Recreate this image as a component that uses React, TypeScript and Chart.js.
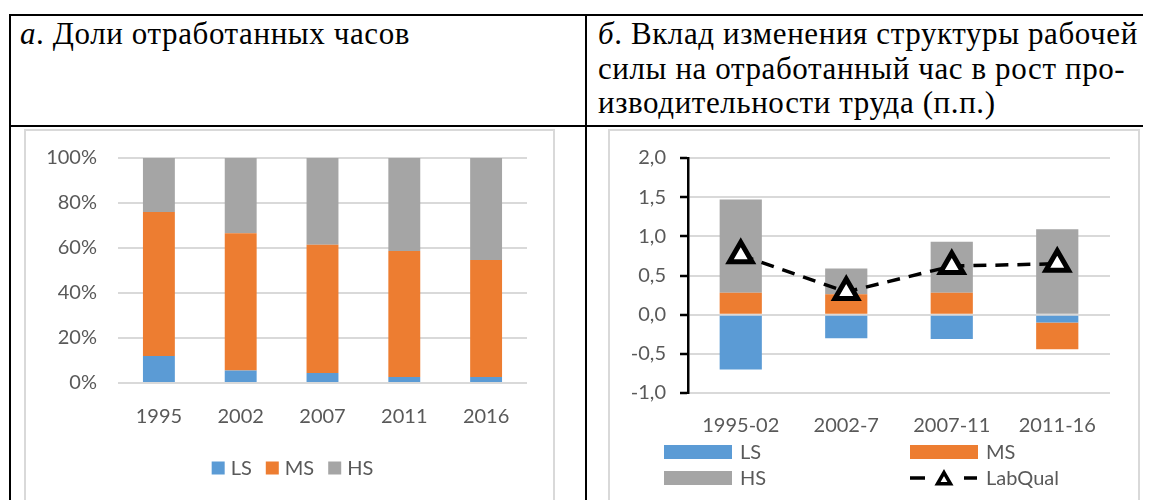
import React, { useEffect, useRef } from "react";
import { Chart, registerables } from "chart.js";

Chart.register(...registerables);

// ---------- Data: panel a ----------
const yearsA = ["1995", "2002", "2007", "2011", "2016"];
const lsA = [12.0, 5.6, 4.4, 2.7, 2.7];
const msA = [64.0, 61.0, 57.0, 56.0, 52.0];
const hsA = [24.0, 33.4, 38.6, 41.3, 45.3];

// ---------- Data: panel b ----------
const periodsB = ["1995-02", "2002-7", "2007-11", "2011-16"];
const lsB = [-0.7, -0.3, -0.31, -0.1];
const msB = [0.28, 0.26, 0.28, -0.34];
const hsB = [1.19, 0.33, 0.65, 1.09];
const labQualB = [0.76, 0.29, 0.62, 0.65];

const C_LS = "#5B9BD5";
const C_MS = "#ED7D31";
const C_HS = "#A5A5A5";
const GRID = "#D9D9D9";
const TXT = "#595959";
const FONT = "Lato";
const FS = 20;

function ChartA() {
  const ref = useRef<HTMLCanvasElement>(null);
  useEffect(() => {
    const legendItems = [
      { label: "LS", color: C_LS },
      { label: "MS", color: C_MS },
      { label: "HS", color: C_HS },
    ];
    const legendPlugin = {
      id: "legendA",
      afterDraw(chart: any) {
        const ctx = chart.ctx;
        ctx.save();
        ctx.font = `${FS}px ${FONT}`;
        ctx.textBaseline = "middle";
        ctx.textAlign = "left";
        const box = 13, gap = 6, spacing = 14;
        const widths = legendItems.map((it) => ctx.measureText(it.label).width);
        const total = widths.reduce((a, w) => a + box + gap + w, 0) + spacing * (legendItems.length - 1);
        let x = (chart.width - total) / 2 + 3;
        const yc = 337;
        legendItems.forEach((it, i) => {
          ctx.fillStyle = it.color;
          ctx.fillRect(x, yc - box / 2, box, box);
          x += box + gap;
          ctx.fillStyle = TXT;
          ctx.fillText(it.label, x, yc + 1);
          x += widths[i] + spacing;
        });
        ctx.restore();
      },
    };
    const chart = new Chart(ref.current!, {
      type: "bar",
      data: {
        labels: yearsA,
        datasets: [
          { label: "LS", data: lsA, backgroundColor: C_LS, barPercentage: 0.39, categoryPercentage: 1 },
          { label: "MS", data: msA, backgroundColor: C_MS, barPercentage: 0.39, categoryPercentage: 1 },
          { label: "HS", data: hsA, backgroundColor: C_HS, barPercentage: 0.39, categoryPercentage: 1 },
        ],
      },
      options: {
        animation: false,
        responsive: false,
        maintainAspectRatio: false,
        layout: { padding: { top: 27, right: 26, bottom: 58, left: 0 } },
        plugins: { legend: { display: false }, tooltip: { enabled: false } },
        scales: {
          x: {
            stacked: true,
            grid: { display: false },
            border: { display: false },
            ticks: { font: { family: FONT, size: FS }, color: TXT, padding: 14 },
            afterFit: (s: any) => { s.height = 60; },
          },
          y: {
            stacked: true,
            min: 0,
            max: 100,
            ticks: {
              stepSize: 20,
              callback: (v: any) => `${v}%`,
              font: { family: FONT, size: FS },
              color: TXT,
              padding: 4,
            },
            grid: { color: GRID, lineWidth: 2, drawTicks: true, tickLength: 17, tickColor: "rgba(0,0,0,0)" },
            border: { display: false },
            afterFit: (s: any) => { s.width = 92; },
          },
        },
      },
      plugins: [legendPlugin],
    } as any);
    return () => chart.destroy();
  }, []);
  return <canvas ref={ref} width={527} height={370} style={{ display: "block" }} />;
}

function ChartB() {
  const ref = useRef<HTMLCanvasElement>(null);
  useEffect(() => {
    const legendPlugin = {
      id: "legendB",
      afterDraw(chart: any) {
        const ctx = chart.ctx;
        ctx.save();
        ctx.font = `${FS}px ${FONT}`;
        ctx.textBaseline = "middle";
        ctx.textAlign = "left";
        const col1 = 54, col2 = 300, row1 = 321, row2 = 347;
        const rw = 68, rh = 14, tOff = 76;
        const rects = [
          { label: "LS", color: C_LS, x: col1, y: row1 },
          { label: "MS", color: C_MS, x: col2, y: row1 },
          { label: "HS", color: C_HS, x: col1, y: row2 },
        ];
        rects.forEach((it) => {
          ctx.fillStyle = it.color;
          ctx.fillRect(it.x, it.y - rh / 2, rw, rh);
          ctx.fillStyle = TXT;
          ctx.fillText(it.label, it.x + tOff, it.y + 1);
        });
        // LabQual line symbol
        const x0 = col2, y0 = row2;
        ctx.strokeStyle = "#000";
        ctx.lineWidth = 3.5;
        ctx.beginPath();
        ctx.moveTo(x0, y0);
        ctx.lineTo(x0 + 15, y0);
        ctx.moveTo(x0 + 54, y0);
        ctx.lineTo(x0 + 67, y0);
        ctx.stroke();
        const cx = x0 + 34, r = 7.5;
        ctx.beginPath();
        for (let k = 0; k < 3; k++) {
          const a = (k * 2 * Math.PI) / 3;
          const px = cx + Math.sin(a) * r;
          const py = y0 + 2 - Math.cos(a) * r;
          if (k === 0) ctx.moveTo(px, py); else ctx.lineTo(px, py);
        }
        ctx.closePath();
        ctx.fillStyle = "#fff";
        ctx.fill();
        ctx.lineWidth = 3.5;
        ctx.stroke();
        ctx.fillStyle = TXT;
        ctx.fillText("LabQual", x0 + tOff, y0 + 1);
        ctx.restore();
      },
    };
    const chart = new Chart(ref.current!, {
      type: "bar",
      data: {
        labels: periodsB,
        datasets: [
          {
            type: "line",
            label: "LabQual",
            data: labQualB,
            stack: "lq",
            order: 0,
            borderColor: "#000",
            borderWidth: 3.5,
            borderDash: [13, 9],
            pointStyle: "triangle",
            pointRadius: 13,
            pointBorderWidth: 5,
            pointBackgroundColor: "#fff",
            pointBorderColor: "#000",
            fill: false,
            tension: 0,
          },
          { label: "LS", data: lsB, backgroundColor: C_LS, stack: "s", order: 1, barPercentage: 0.4, categoryPercentage: 1 },
          { label: "MS", data: msB, backgroundColor: C_MS, stack: "s", order: 1, barPercentage: 0.4, categoryPercentage: 1 },
          { label: "HS", data: hsB, backgroundColor: C_HS, stack: "s", order: 1, barPercentage: 0.4, categoryPercentage: 1 },
        ],
      },
      options: {
        animation: false,
        responsive: false,
        maintainAspectRatio: false,
        layout: { padding: { top: 27, right: 28, bottom: 48, left: 0 } },
        plugins: { legend: { display: false }, tooltip: { enabled: false } },
        scales: {
          x: {
            stacked: true,
            grid: { display: false },
            border: { display: false },
            ticks: { font: { family: FONT, size: FS }, color: TXT, padding: 13 },
            afterFit: (s: any) => { s.height = 60; },
          },
          y: {
            stacked: true,
            min: -1,
            max: 2,
            ticks: {
              stepSize: 0.5,
              callback: (v: any) => Number(v).toFixed(1).replace(".", ","),
              font: { family: FONT, size: FS },
              color: TXT,
              padding: 14,
            },
            grid: { color: GRID, lineWidth: 2, drawTicks: true, tickLength: 8, tickColor: "#000", tickWidth: 2.5 },
            border: { display: true, color: "#000", width: 2.5 },
            afterFit: (s: any) => { s.width = 78; },
          },
        },
      },
      plugins: [legendPlugin],
    } as any);
    return () => chart.destroy();
  }, []);
  return <canvas ref={ref} width={528} height={370} style={{ display: "block" }} />;
}

const line = (l: number, t: number, w: number, h: number): React.CSSProperties => ({
  position: "absolute",
  left: l - 8,
  top: t - 8,
  width: w,
  height: h,
  background: "#000",
});

export default function App() {
  const headStyle: React.CSSProperties = {
    position: "absolute",
    fontFamily:
      '"Liberation Serif", "Noto Serif", "DejaVu Serif", Tinos, "Times New Roman", Times, Georgia, serif',
    fontSize: 31,
    letterSpacing: "0.6px",
    lineHeight: "34.5px",
    color: "#000",
    whiteSpace: "nowrap",
  };
  return (
    <div style={{ position: "relative", width: 1143, height: 492, overflow: "hidden" }}>
      {/* table lines */}
      <div style={line(9, 14, 1150, 2)} />
      <div style={line(9, 14, 2, 500)} />
      <div style={line(585, 14, 2, 500)} />
      <div style={line(9, 125, 1150, 2)} />
      {/* headers */}
      <div style={{ ...headStyle, left: 20 - 8, top: 17 - 8 }}>
        <i>а</i>. Доли отработанных часов
      </div>
      <div style={{ ...headStyle, left: 598 - 8, top: 17 - 8 }}>
        <i>б</i>. Вклад изменения структуры рабочей
        <br />
        силы на отработанный час в рост про-
        <br />
        изводительности труда (п.п.)
      </div>
      {/* chart boxes */}
      <div
        style={{
          position: "absolute",
          left: 24 - 8,
          top: 129 - 8,
          border: `2px solid ${GRID}`,
          background: "#fff",
        }}
      >
        <ChartA />
      </div>
      <div
        style={{
          position: "absolute",
          left: 608 - 8,
          top: 129 - 8,
          border: `2px solid ${GRID}`,
          background: "#fff",
        }}
      >
        <ChartB />
      </div>
    </div>
  );
}
